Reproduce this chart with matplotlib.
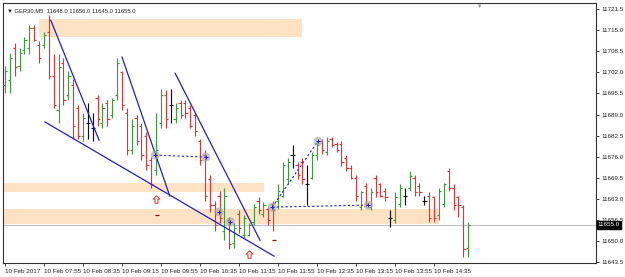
import matplotlib
matplotlib.use("Agg")
import matplotlib.pyplot as plt
from matplotlib.patches import Rectangle
from matplotlib.path import Path

plt.rcParams['font.family'] = ['Liberation Sans', 'DejaVu Sans']

# GER30 M5 bars, 10 Feb 2017 (open, high, low, close)
opens = [11698.0, 11699.5, 11709.5, 11704.0, 11709.0, 11709.5, 11715.5, 11710.5, 11710.5, 11714.5,
         11701.0, 11690.5, 11705.0, 11695.0, 11698.0, 11691.0, 11682.5, 11686.5, 11685.0, 11694.0,
         11686.5, 11692.5, 11689.0, 11695.0, 11702.0, 11689.5, 11678.0, 11688.0, 11685.5, 11682.5,
         11675.0, 11672.0, 11686.5, 11695.0, 11692.0, 11687.5, 11692.5, 11692.5, 11691.0, 11689.0,
         11681.0, 11676.5, 11669.0, 11661.0, 11664.0, 11653.0, 11656.5, 11649.5, 11658.5, 11652.0,
         11652.0, 11656.0, 11662.5, 11658.5, 11660.0, 11661.5, 11662.5, 11664.0, 11669.0, 11676.5,
         11673.5, 11674.5, 11667.5, 11669.5, 11676.5, 11681.0, 11677.5, 11681.5, 11680.0, 11680.0,
         11675.5, 11672.5, 11669.5, 11660.5, 11667.0, 11660.5, 11669.5, 11667.5, 11665.5, 11657.0,
         11656.5, 11661.5, 11664.0, 11666.5, 11669.5, 11667.0, 11662.5, 11664.0, 11663.5, 11658.0,
         11661.5, 11671.5, 11666.5, 11663.5, 11660.5, 11648.0]
highs = [11704.0, 11708.0, 11711.0, 11709.5, 11713.0, 11716.5, 11716.5, 11711.5, 11714.5, 11719.5,
         11707.5, 11707.5, 11706.5, 11702.5, 11700.0, 11692.0, 11689.5, 11692.5, 11689.5, 11695.0,
         11692.5, 11693.5, 11694.0, 11706.5, 11702.5, 11691.0, 11687.5, 11689.0, 11686.5, 11683.5,
         11676.0, 11689.5, 11697.0, 11696.5, 11697.0, 11692.5, 11693.5, 11693.5, 11692.0, 11689.5,
         11681.5, 11678.0, 11670.5, 11662.5, 11665.5, 11666.5, 11657.5, 11655.5, 11659.5, 11658.0,
         11655.5, 11661.5, 11663.5, 11662.0, 11660.5, 11662.5, 11667.5, 11674.5, 11675.5, 11679.5,
         11674.5, 11675.5, 11673.5, 11677.5, 11681.0, 11681.5, 11682.0, 11682.0, 11680.5, 11681.0,
         11676.5, 11673.5, 11670.5, 11665.5, 11668.0, 11666.5, 11670.5, 11668.0, 11666.5, 11659.5,
         11665.0, 11667.5, 11666.5, 11671.5, 11670.5, 11668.0, 11664.0, 11665.0, 11664.0, 11666.5,
         11668.0, 11672.5, 11667.5, 11664.0, 11661.0, 11656.0]
lows = [11695.5, 11695.5, 11701.0, 11702.5, 11707.5, 11707.5, 11711.5, 11705.0, 11709.5, 11700.0,
        11691.0, 11686.5, 11692.0, 11693.5, 11681.5, 11681.5, 11681.0, 11681.5, 11681.0, 11685.5,
        11685.0, 11685.5, 11688.0, 11693.5, 11690.5, 11676.5, 11677.0, 11679.5, 11675.0, 11672.0,
        11666.5, 11670.5, 11685.0, 11685.0, 11686.5, 11686.5, 11688.0, 11688.0, 11685.0, 11682.5,
        11673.5, 11662.5, 11659.0, 11653.0, 11655.5, 11650.5, 11647.5, 11648.0, 11652.5, 11651.0,
        11651.5, 11655.0, 11658.5, 11657.5, 11655.0, 11653.0, 11660.0, 11663.5, 11667.5, 11672.5,
        11669.0, 11667.5, 11661.0, 11669.0, 11675.0, 11677.0, 11676.5, 11679.0, 11677.5, 11673.0,
        11671.5, 11669.0, 11662.5, 11659.5, 11660.5, 11659.5, 11663.5, 11663.5, 11662.5, 11654.5,
        11655.5, 11660.5, 11661.0, 11665.5, 11664.0, 11664.0, 11661.0, 11656.0, 11656.0, 11656.5,
        11660.5, 11665.5, 11659.5, 11657.5, 11645.0, 11645.0]
closes = [11702.5, 11706.5, 11703.5, 11708.0, 11712.0, 11715.5, 11712.0, 11706.5, 11713.5, 11701.0,
          11692.0, 11703.5, 11693.5, 11701.0, 11685.5, 11682.5, 11688.0, 11686.5, 11685.0, 11687.5,
          11691.0, 11687.5, 11693.5, 11705.0, 11692.0, 11678.0, 11685.5, 11681.0, 11676.5, 11673.5,
          11667.5, 11678.0, 11695.0, 11687.5, 11692.0, 11691.0, 11689.0, 11689.5, 11685.5, 11684.0,
          11675.0, 11664.0, 11661.0, 11655.0, 11657.0, 11664.0, 11649.0, 11654.0, 11654.0, 11657.0,
          11655.0, 11660.5, 11659.5, 11661.0, 11656.5, 11659.5, 11665.5, 11673.5, 11674.5, 11676.5,
          11670.5, 11669.0, 11667.5, 11676.5, 11679.5, 11678.0, 11681.0, 11679.5, 11678.0, 11674.5,
          11672.5, 11669.5, 11664.0, 11665.0, 11661.5, 11665.0, 11665.0, 11664.0, 11663.5, 11657.0,
          11663.5, 11666.5, 11664.0, 11670.0, 11665.0, 11665.0, 11662.5, 11657.0, 11657.0, 11665.5,
          11667.5, 11666.5, 11661.0, 11661.0, 11647.5, 11655.0]

time_labels = ["10 Feb 2017", "10 Feb 07:55", "10 Feb 08:35", "10 Feb 09:15", "10 Feb 09:55",
               "10 Feb 10:35", "10 Feb 11:15", "10 Feb 11:55", "10 Feb 12:35", "10 Feb 13:15",
               "10 Feb 13:55", "10 Feb 14:35"]
label_bars = [0, 8, 16, 24, 32, 40, 48, 56, 64, 72, 80, 88]
price_ticks = [11721.5, 11715.0, 11708.5, 11702.0, 11695.5, 11689.0, 11682.5,
               11676.0, 11669.5, 11663.0, 11656.5, 11650.0, 11643.5]
last_price = 11655.0

# supply / demand zones: (bar from, bar to, low, high)
zones = [(7.0, 60.9, 11713.0, 11718.5),
         (-1.0, 53.1, 11665.0, 11668.0),
         (-1.0, 89.0, 11655.3, 11659.9)]
# trend lines: (bar1, price1, bar2, price2)
trend_lines = [(9.4, 11718.0, 19.3, 11681.1),
               (24.0, 11706.7, 33.8, 11663.9),
               (34.9, 11701.7, 52.3, 11650.3),
               (8.2, 11686.7, 55.2, 11645.4)]
dotted_lines = [(30.8, 11676.5, 41.2, 11675.9),
                (54.8, 11660.5, 73.4, 11661.1),
                (54.8, 11660.5, 64.2, 11680.8)]
marker_bars = [30.8, 41.2, 43.9, 46.2, 54.8, 64.2, 74.5]
marker_prices = [11676.5, 11675.9, 11659.0, 11656.0, 11660.5, 11680.8, 11661.1]
arrow_bars = [31.0, 50.0]
arrow_prices = [11662.9, 11646.0]
dash_bars = [31.2, 55.2]
dash_prices = [11658.2, 11650.3]

fig = plt.figure(figsize=(6.25, 2.77), dpi=100)
ax = fig.add_axes([0.0048, 0.0505, 0.9488, 0.9385])
ax.set_xlim(-0.4, 121.2)
ax.set_ylim(11643.3, 11723.3)

for x0, x1, lo, hi in zones:
    ax.add_patch(Rectangle((x0, lo), x1 - x0, hi - lo, facecolor="#fde2c4",
                           edgecolor="none", zorder=1))

ax.axhline(last_price, color="#c0c0c0", lw=0.8, zorder=1.5)

for i in range(len(opens)):
    o, h, l, c = opens[i], highs[i], lows[i], closes[i]
    if c > o:
        col = "#3f9b3f"
    elif c < o:
        col = "#d83a3a"
    else:
        col = "#111111"
    ax.vlines(i, l, h, color=col, lw=0.85, zorder=3)
    ax.hlines(o, i - 0.45, i, color=col, lw=0.85, zorder=3)
    ax.hlines(c, i, i + 0.45, color=col, lw=0.85, zorder=3)

for x0, y0, x1, y1 in trend_lines:
    ax.plot([x0, x1], [y0, y1], color="#2020c8", lw=0.9, zorder=4)
for x0, y0, x1, y1 in dotted_lines:
    ax.plot([x0, x1], [y0, y1], color="#2020c8", lw=0.8, ls=(0, (2, 2)), zorder=4)

ax.scatter(marker_bars, marker_prices, s=42, color="#a0a0a0", alpha=0.6,
           edgecolors="none", zorder=5)
ax.scatter(marker_bars, marker_prices, s=6, marker="+", color="#2020c8", lw=0.7, zorder=6)

# hollow up arrows and small dashes
up_arrow = Path([(0, 1), (-0.9, 0.1), (-0.4, 0.1), (-0.4, -1), (0.4, -1),
                 (0.4, 0.1), (0.9, 0.1), (0, 1)])
ax.scatter(arrow_bars, arrow_prices, s=30, marker=up_arrow, facecolor="white",
           edgecolor="#e03030", lw=0.7, zorder=6)
ax.scatter(dash_bars, dash_prices, s=10, marker="_", color="#8b1010", lw=0.9, zorder=6)

ax.text(0.006, 0.978, "\u25bc GER30,M5  11648.0 11656.0 11645.0 11655.0",
        transform=ax.transAxes, fontsize=4.2, ha="left", va="top", color="#222222")
ax.text(0.803, 0.997, "\u25bc", transform=ax.transAxes, fontsize=4, ha="center",
        va="top", color="#909090")

ax.yaxis.tick_right()
ax.set_yticks(price_ticks)
ax.set_yticklabels(["%.1f" % p for p in price_ticks])
ax.set_xticks(label_bars)
ax.set_xticklabels(time_labels, ha="left")
ax.tick_params(axis="both", labelsize=4.5, length=2.5, width=0.6, pad=1.5,
               colors="#222222")
for s in ax.spines.values():
    s.set_linewidth(0.8)
    s.set_color("#333333")

ax.text(1.003, last_price, "11655.0", transform=ax.get_yaxis_transform(),
        fontsize=4.5, color="white", ha="left", va="center", zorder=10,
        bbox=dict(boxstyle="square,pad=0.2", facecolor="black", edgecolor="black"))

fig.savefig("out.png", dpi=100)
